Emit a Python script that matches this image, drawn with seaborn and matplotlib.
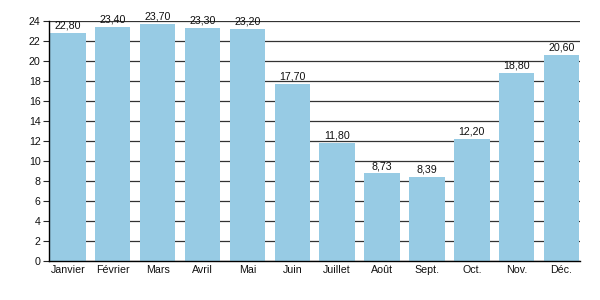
import matplotlib
matplotlib.use("Agg")
import matplotlib.pyplot as plt
import seaborn as sns
import pandas as pd

months = ["Janvier", "Février", "Mars", "Avril", "Mai", "Juin", "Juillet",
          "Août", "Sept.", "Oct.", "Nov.", "Déc."]
values = [22.80, 23.40, 23.70, 23.30, 23.20, 17.70, 11.80, 8.73, 8.39, 12.20, 18.80, 20.60]
labels = ["22,80", "23,40", "23,70", "23,30", "23,20", "17,70", "11,80",
          "8,73", "8,39", "12,20", "18,80", "20,60"]
yticks = list(range(0, 25, 2))

sns.set_theme(style="white")
plt.rcParams['font.family'] = ['Liberation Sans', 'DejaVu Sans']

df = pd.DataFrame({"mois": months, "val": values})

fig = plt.figure(figsize=(6, 3), dpi=100)
ax = fig.add_axes([0.0817, 0.131, 0.885, 0.8])
sns.barplot(data=df, x="mois", y="val", color="#97cbe4", saturation=1,
            width=0.79, linewidth=0, edgecolor="none", ax=ax, zorder=2)
ax.set_axisbelow(True)
ax.yaxis.grid(True, color="#333333", linewidth=0.9, zorder=0)
ax.set_ylim(0, 24)
ax.set_xlim(-0.42, 11.41)
ax.set_yticks(yticks)
ax.set_yticklabels([str(t) for t in yticks], fontsize=7.7, color="#111111")
ax.tick_params(axis="x", labelsize=7.7, length=0, pad=3, colors="#111111")
ax.tick_params(axis="y", length=4, width=0.8, direction="out", left=True, pad=2)
ax.set_xlabel("")
ax.set_ylabel("")
for s in ["top", "right"]:
    ax.spines[s].set_visible(False)
for s in ["left", "bottom"]:
    ax.spines[s].set_color("black")
    ax.spines[s].set_linewidth(1.0)
    ax.spines[s].set_zorder(3)

for i, p in enumerate(ax.patches):
    ax.annotate(labels[i], (p.get_x() + p.get_width() / 2, p.get_height()),
                xytext=(0, 1.5), textcoords="offset points",
                ha="center", va="bottom", fontsize=7.7, color="#111111",
                annotation_clip=False, zorder=4)

fig.savefig("out.png", dpi=100)
